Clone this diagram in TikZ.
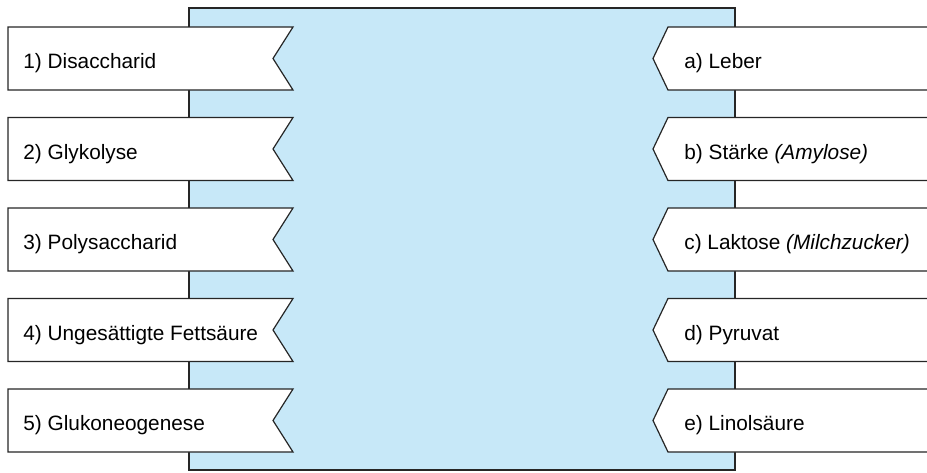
\documentclass[tikz,border=0pt]{standalone}
\usepackage{fontspec}
\setmainfont{Liberation Sans}
\usetikzlibrary{positioning}
\definecolor{tafelblau}{RGB}{199,232,248}
\tikzset{
  fahne/.style={draw=black!85, fill=white, line width=0.6pt},
  fahnentext/.style={anchor=base west, inner sep=0pt, font=\fontsize{10.4}{12}\selectfont},
}

\begin{document}
\begin{tikzpicture}[x=0.5pt,y=-0.5pt]
	\useasboundingbox (0,0) rectangle (927,472);
	
	% Zuordnungsfeld
	\draw[fill=tafelblau, draw=black!85, line width=0.6pt] (189,8) rectangle (735,470);
	
	% linke Fahnen, Spitze nach innen
	\foreach \nr/\txt [count=\i from 0] in {1/Disaccharid, 2/Glykolyse, 3/Polysaccharid,
			4/Ungesättigte Fettsäure, 5/Glukoneogenese}{
		\pgfmathsetmacro{\yo}{27+90.5*\i}
		\draw[fahne] (8,\yo) -- (293,\yo) -- (273,\yo+31.5) -- (293,\yo+63) -- (8,\yo+63) -- cycle;
		\node[fahnentext] (links\nr) at (23,\yo+41.5) {\nr) \txt};
	}
	
	% rechte Fahnen, laufen rechts aus dem Bild
	\foreach \nr/\txt [count=\i from 0] in {a/Leber, b/{Stärke \textit{(Amylose)}},
			c/{Laktose \textit{(Milchzucker)}}, d/Pyruvat, e/Linolsäure}{
		\pgfmathsetmacro{\yo}{27+90.5*\i}
		\draw[fahne] (940,\yo) -- (668,\yo) -- (653,\yo+31.5) -- (668,\yo+63) -- (940,\yo+63) -- cycle;
		\node[fahnentext] (rechts\nr) at (684,\yo+41.5) {\nr) \txt};
	}
\end{tikzpicture}
\end{document}
